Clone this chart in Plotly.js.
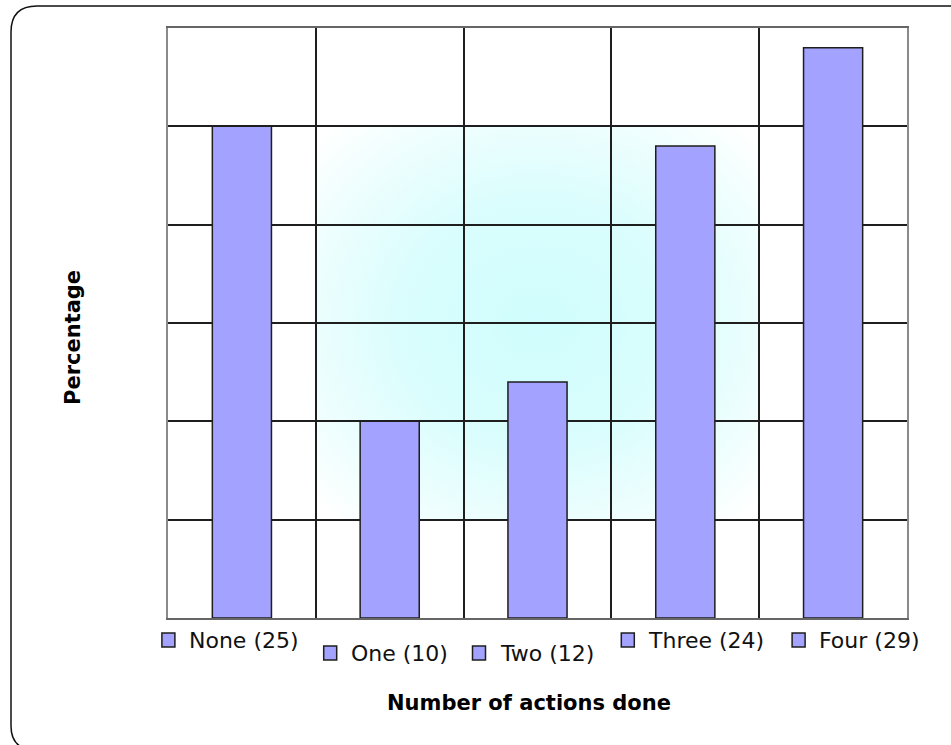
<!DOCTYPE html>
<html>
<head>
<meta charset="utf-8">
<script src="https://cdn.plot.ly/plotly-3.0.1.min.js"></script>
<style>html,body{margin:0;padding:0;background:#fff;}#chart{width:951px;height:745px;}</style>
</head>
<body>
<div id="chart"></div>
<script>
// ---- data ----
const categories = ["None", "One", "Two", "Three", "Four"];
const counts = [25, 10, 12, 24, 29];
const tickLabels = ["None (25)", "One (10)", "Two (12)", "Three (24)", "Four (29)"];
const yTitle = "Percentage";
const xTitle = "Number of actions done";

// ---- layout helpers (pixel geometry) ----
const L = 168, T = 28, W = 739, H = 590;
const px = x => (x - L) / W;
const py = y => (T + H - y) / H;

// label placement (pixel offsets, styling only)
const labelShift = [-55, -41, -40, -39, -16];
const labelRow = [0, 1, 1, 0, 0];
const rowY = [-22, -35];

const barColor = "#a3a3ff";
const dark = "#1e1e1e";

const trace = {
  type: "bar",
  x: categories,
  y: counts,
  width: 0.4,
  marker: {color: barColor, line: {color: dark, width: 1.5}},
  hoverinfo: "x+y"
};

const annotations = [];
const shapes = [];
categories.forEach((c, i) => {
  annotations.push({
    xref: "x", yref: "paper", x: c, y: 0,
    xanchor: "left", yanchor: "middle",
    xshift: labelShift[i], yshift: rowY[labelRow[i]],
    text: tickLabels[i], showarrow: false,
    font: {family: "DejaVu Sans", size: 22, color: "#111"}
  });
  const top = -rowY[labelRow[i]];
  shapes.push({
    type: "rect", xref: "paper", yref: "paper",
    xsizemode: "pixel", ysizemode: "pixel",
    xanchor: (i + 0.5) / categories.length, yanchor: 0,
    x0: labelShift[i] - 25, x1: labelShift[i] - 12,
    y0: -(top + 7), y1: -(top - 7),
    fillcolor: barColor, line: {color: dark, width: 1.5}
  });
});

annotations.push({
  xref: "paper", yref: "paper", x: px(73), y: py(338),
  xanchor: "center", yanchor: "middle", textangle: -90,
  text: "<b>" + yTitle + "</b>", showarrow: false,
  font: {family: "DejaVu Sans", size: 21, color: "#000"}
});
annotations.push({
  xref: "paper", yref: "paper", x: px(529), y: py(703),
  xanchor: "center", yanchor: "middle",
  text: "<b>" + xTitle + "</b>", showarrow: false,
  font: {family: "DejaVu Sans", size: 21, color: "#000"}
});

// outer rounded frame
shapes.push({
  type: "path", xref: "paper", yref: "paper", layer: "above",
  path: `M ${px(990)},${py(750)} L ${px(36)},${py(750)} Q ${px(11)},${py(750)} ${px(11)},${py(726)} ` +
        `L ${px(11)},${py(32)} Q ${px(11)},${py(6)} ${px(37)},${py(6)} L ${px(990)},${py(6)}`,
  line: {color: "#111", width: 1.5}
});

// cyan glow image behind the grid
const svg = `<svg xmlns="http://www.w3.org/2000/svg" width="200" height="200" preserveAspectRatio="none">` +
  `<defs><radialGradient id="g" cx="0.5" cy="0.5" r="0.68">` +
  `<stop offset="0" stop-color="#d0fdfd"/><stop offset="0.45" stop-color="#dafdfd"/>` +
  `<stop offset="0.8" stop-color="#f0fefe"/><stop offset="1" stop-color="#ffffff"/></radialGradient></defs>` +
  `<rect width="200" height="200" fill="url(#g)"/></svg>`;
const img = "data:image/svg+xml;base64," + btoa(svg);

const layout = {
  width: 951, height: 745,
  margin: {l: L, r: 951 - L - W, t: T, b: 745 - T - H},
  paper_bgcolor: "#ffffff",
  plot_bgcolor: "rgba(0,0,0,0)",
  showlegend: false,
  xaxis: {
    type: "category",
    range: [-0.5, 4.5],
    tickson: "boundaries",
    showgrid: true, gridcolor: dark, gridwidth: 2,
    showticklabels: false, ticks: "",
    showline: true, linecolor: "#666", linewidth: 2, mirror: true,
    zeroline: false, fixedrange: true
  },
  yaxis: {
    range: [0, 30], dtick: 5,
    showgrid: true, gridcolor: dark, gridwidth: 2,
    showticklabels: false, ticks: "",
    showline: true, linecolor: "#8a8a8a", linewidth: 2, mirror: true,
    zeroline: false, fixedrange: true
  },
  images: [{
    source: img, xref: "paper", yref: "paper",
    x: px(316), y: py(126), sizex: px(758) - px(316), sizey: py(126) - py(520),
    xanchor: "left", yanchor: "top", sizing: "stretch", layer: "below"
  }],
  annotations: annotations,
  shapes: shapes
};

Plotly.newPlot("chart", [trace], layout, {displayModeBar: false, staticPlot: true});
</script>
</body>
</html>
